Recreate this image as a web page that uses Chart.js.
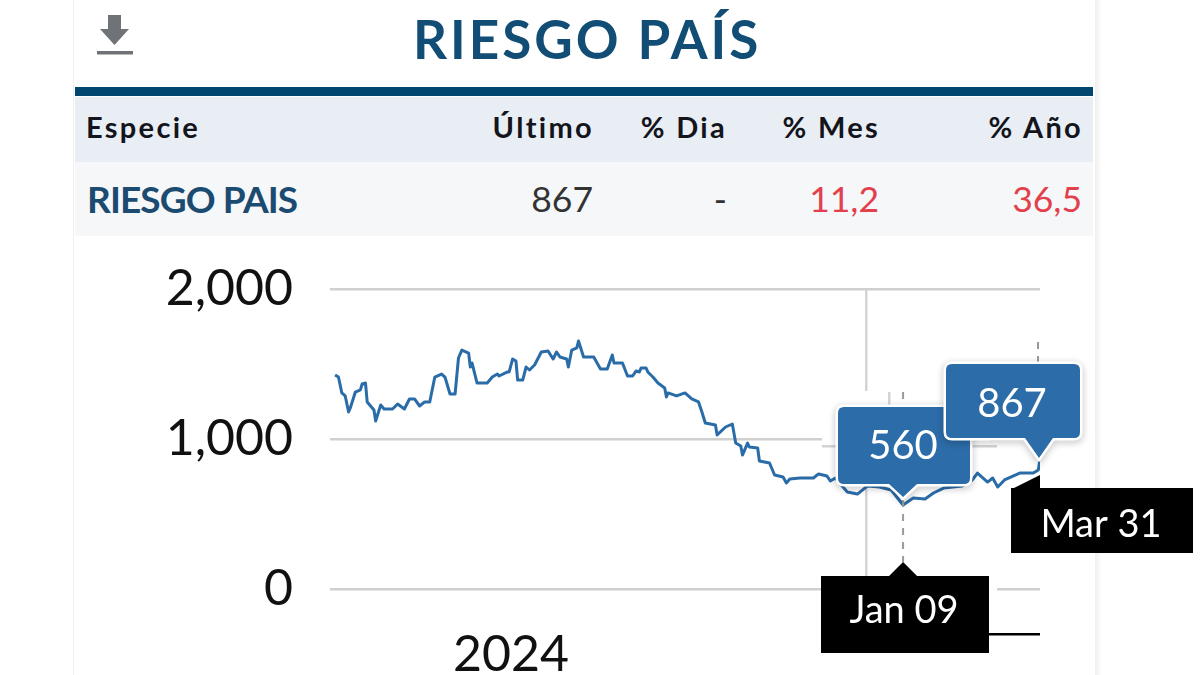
<!DOCTYPE html>
<html lang="es">
<head>
<meta charset="utf-8">
<title>Riesgo País</title>
<script src="https://cdn.jsdelivr.net/npm/chart.js@4"></script>
<style>
html,body{margin:0;padding:0;background:#fff;width:1200px;height:675px;overflow:hidden}
body{position:relative;font-family:Lato,sans-serif}
.abs{position:absolute}
#panelL{left:73px;top:0;width:1px;height:675px;background:#f0f0f0}
#panelR{left:1095px;top:0;width:7px;height:675px;background:linear-gradient(to right,#efefef,#fafafa 70%,#fff)}
#rule{left:75px;top:87px;width:1018px;height:9px;background:#00466e}
#head{left:75px;top:97px;width:1018px;height:65px;background:#e8eef4}
#row{left:75px;top:162px;width:1018px;height:74px;background:#f6f7f8}
#title{left:413px;top:7px;font-size:53px;font-weight:700;color:#114d75;letter-spacing:3px;line-height:64px;white-space:nowrap}
.h,.c{white-space:nowrap;line-height:40px}
.h{top:107px;font-size:29px;font-weight:700;color:#14141c;letter-spacing:2.300px}
.c{top:179px;font-size:35.500px;color:#333}
.r{text-align:right;width:200px}
.red{color:#e2404c}
canvas{position:absolute;left:0;top:0}
</style>
</head>
<body>
<div class="abs" id="panelL"></div>
<div class="abs" id="panelR"></div>
<svg class="abs" style="left:95px;top:12px" width="40" height="46" viewBox="0 0 40 46">
  <path d="M13 3h13v14h8L19.500 33 5 17h8z" fill="#6f7276"/>
  <rect x="2" y="39" width="36" height="3.500" fill="#6f7276"/>
</svg>
<div class="abs" id="title">RIESGO PAÍS</div>
<div class="abs" id="rule"></div>
<div class="abs" id="head"></div>
<div class="abs" id="row"></div>
<div class="abs h" style="left:86px">Especie</div>
<div class="abs h r" style="left:394px">Último</div>
<div class="abs h r" style="left:527px">% Dia</div>
<div class="abs h r" style="left:680px">% Mes</div>
<div class="abs h r" style="left:883px">% Año</div>
<div class="abs c" style="left:87px;font-size:37px;font-weight:700;color:#1b4b70;letter-spacing:-.9px">RIESGO PAIS</div>
<div class="abs c r" style="left:393px">867</div>
<div class="abs c r" style="left:527px">-</div>
<div class="abs c r red" style="left:679px">11,2</div>
<div class="abs c r red" style="left:882px">36,5</div>
<canvas id="chart" width="1200" height="675"></canvas>
<script>
// days relative to Mar 31 (0)
const days = [-417,-415,-413,-411,-409,-408,-405,-402,-401,-399,-398,-395,-394,-393,-390,-388,-383,-380,-376,-373,-370,-367,-364,-361,-358,-354,-352,-349,-346,-344,-342,-338,-337,-336,-333,-327,-324,-321,-320,-315,-314,-312,-310,-309,-306,-304,-302,-299,-295,-291,-288,-286,-284,-280,-279,-277,-274,-273,-270,-264,-260,-256,-253,-252,-247,-244,-241,-239,-237,-236,-233,-232,-229,-226,-222,-221,-220,-215,-210,-206,-202,-200,-198,-192,-191,-186,-182,-180,-177,-176,-173,-172,-167,-166,-160,-157,-152,-150,-148,-142,-134,-131,-126,-124,-121,-114,-108,-102,-95,-88,-81,-75,-68,-63,-57,-46,-40,-37,-31,-28,-25,-21,-16,-12,-4,-1,0];
const riesgo = [1427,1413,1307,1287,1180,1207,1313,1327,1367,1373,1247,1207,1193,1120,1227,1200,1200,1233,1200,1267,1267,1220,1247,1247,1413,1433,1413,1300,1300,1540,1593,1573,1480,1507,1373,1373,1413,1433,1420,1447,1447,1533,1520,1393,1393,1480,1460,1493,1580,1587,1533,1580,1547,1533,1480,1593,1607,1653,1547,1547,1467,1467,1560,1507,1507,1420,1420,1453,1447,1473,1473,1447,1413,1373,1340,1280,1307,1287,1307,1267,1247,1180,1107,1093,1027,1080,1100,973,953,893,973,947,940,853,840,760,747,707,733,740,740,767,753,720,740,647,633,687,680,660,560,607,600,640,673,687,727,773,713,740,680,727,753,773,773,793,867];
const yTicks = [0,1000,2000];
const xTickDays = [-313,-103];
const xTickLabels = ['2024',''];
const markers = [
  {day:-81, text:'560', date:'Jan 09'},
  {day:0, text:'867', date:'Mar 31'}
];
const FONT='Lato, sans-serif';

function callout(c,x,y,w,h,tipX,tipY,text,dy){
  c.save();
  c.shadowColor='rgba(0,0,0,.28)';c.shadowBlur=7;c.shadowOffsetY=2;
  const p=()=>{c.beginPath();c.moveTo(x+6,y);c.lineTo(x+w-6,y);c.quadraticCurveTo(x+w,y,x+w,y+6);c.lineTo(x+w,y+h-6);c.quadraticCurveTo(x+w,y+h,x+w-6,y+h);
    c.lineTo(tipX+14,y+h);c.lineTo(tipX,tipY);c.lineTo(tipX-14,y+h);c.lineTo(x+6,y+h);c.quadraticCurveTo(x,y+h,x,y+h-6);c.lineTo(x,y+6);c.quadraticCurveTo(x,y,x+6,y);c.closePath();};
  p();c.strokeStyle='#fff';c.lineWidth=5;c.stroke();
  c.shadowColor='transparent';
  p();c.fillStyle='#2c6ca8';c.fill();
  c.fillStyle='#fff';c.font='40px '+FONT;c.textAlign='center';c.textBaseline='middle';
  c.fillText(text,x+w/2-1,y+h/2+dy);
  c.restore();
}
function dashV(c,x,y0,y1){c.save();c.strokeStyle='#9a9a9a';c.lineWidth=2;c.setLineDash([7,7]);c.beginPath();c.moveTo(x,y0);c.lineTo(x,y1);c.stroke();c.restore();}
function dateBox(c,x,y,w,h,text,dy){
  c.fillStyle='#000';c.fillRect(x,y,w,h);
  c.fillStyle='#fff';c.font='38px '+FONT;c.textAlign='center';c.textBaseline='middle';
  c.fillText(text,x+w/2-1,y+h/2+dy);
}
const overlay={id:'overlay',afterDatasetsDraw(ch){
  const c=ch.ctx,xs=ch.scales.x;
  const x0=xs.getPixelForValue(markers[0].day),x1=xs.getPixelForValue(markers[1].day);
  c.save();
  // white patch behind the first callout, with the shifted grid pieces of the reference
  c.fillStyle='#fff';
  c.fillRect(822,391,168,76);c.fillRect(838,467,132,16);
  c.fillRect(989,572,8,34);
  c.fillStyle='#d4d4d4';
  c.fillRect(822,445,16,2.500);c.fillRect(970,445,27,2.500);c.fillRect(888,392,2.500,16);
  dashV(c,x0,392,408);dashV(c,x0,500,562);
  dashV(c,x1-2,342,364);
  callout(c,838,407,132,77,x0,497,markers[0].text,1);
  callout(c,946,364,134,74,x1-1,458,markers[1].text,3);
  // black date flags
  c.fillStyle='#000';
  c.beginPath();c.moveTo(x0-14,576);c.lineTo(x0,562);c.lineTo(x0+14,576);c.closePath();c.fill();
  dateBox(c,821,576,168,77,markers[0].date,-4);
  c.fillStyle='#000';
  c.fillRect(988,633,52,2.500);
  c.beginPath();c.moveTo(1012,489);c.lineTo(x1,475);c.lineTo(x1,489);c.closePath();c.fill();
  dateBox(c,1011,488,182,65,markers[1].date,4);
  c.restore();
}};
new Chart(document.getElementById('chart'),{
  type:'line',
  data:{datasets:[{data:days.map((d,i)=>({x:d,y:riesgo[i]})),borderColor:'#2a6ca8',borderWidth:3,pointRadius:0,tension:0,borderJoinStyle:'round',fill:false}]},
  options:{
    responsive:false,animation:false,
    layout:{padding:{left:0,right:160,top:289,bottom:0}},
    plugins:{legend:{display:false},tooltip:{enabled:false},title:{display:false}},
    scales:{
      x:{type:'linear',min:-420,max:0,
        afterFit(s){s.height=86;},
        afterBuildTicks(s){s.ticks=xTickDays.map(v=>({value:v}));},
        grid:{drawTicks:false,tickLength:0,lineWidth:2.500,color:ctx=>ctx.tick&&ctx.tick.value===xTickDays[1]?'#d4d4d4':'rgba(0,0,0,0)'},
        border:{display:false},
        ticks:{autoSkip:false,maxRotation:0,padding:36,color:'#111',font:{family:FONT,size:50},callback:v=>xTickLabels[xTickDays.indexOf(v)]??''}
      },
      y:{min:0,max:2000,
        afterFit(s){s.width=330;},
        afterBuildTicks(s){s.ticks=yTicks.map(v=>({value:v}));},
        grid:{drawTicks:false,tickLength:0,lineWidth:2.500,color:'#d0d0d0'},
        border:{display:false},
        ticks:{padding:37,color:'#111',font:{family:FONT,size:50},callback:v=>v.toLocaleString('en-US')}
      }
    }
  },
  plugins:[overlay]
});
</script>
</body>
</html>
